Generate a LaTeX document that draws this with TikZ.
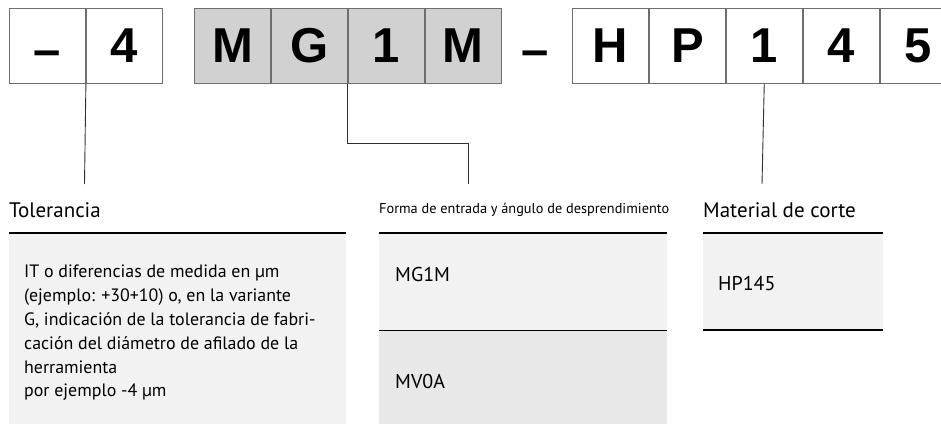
\documentclass[tikz,border=0pt]{standalone}
\usepackage{fontspec}
\setmainfont{PT Sans}
\newfontfamily\codefont{Liberation Sans}[BoldFont={Liberation Sans Bold}]
\usetikzlibrary{positioning}
\definecolor{cellgray}{HTML}{D1D1D1}
\definecolor{cellline}{HTML}{6E6E6E}
\definecolor{softgray}{HTML}{F2F2F2}
\definecolor{midgray}{HTML}{E8E8E8}
\definecolor{linkgray}{HTML}{303030}
\newcommand{\lowdash}{\vphantom{4}\smash{\raisebox{-4pt}{–}}}
\tikzset{
  cell/.style={draw=cellline, line width=0.9pt, minimum width=76pt, minimum height=75pt,
    inner sep=0pt, font=\codefont\bfseries\fontsize{49}{49}\selectfont},
  graycell/.style={cell, fill=cellgray},
  link/.style={linkgray, line width=0.9pt},
  heading/.style={anchor=base west, inner sep=0pt, font=\fontsize{21}{24}\selectfont},
  smallheading/.style={anchor=base west, inner sep=0pt, font=\fontsize{14.3}{17}\selectfont},
  entry/.style={anchor=base west, inner sep=0pt, font=\fontsize{20}{23}\selectfont},
  bodytext/.style={anchor=north west, inner sep=0pt, align=left, font=\fontsize{17.9}{23.8}\selectfont},
  rule/.style={black, line width=2.6pt},
  thinrule/.style={black, line width=0.9pt}
}
\begin{document}
\begin{tikzpicture}[x=1pt,y=-1pt]
  \useasboundingbox (0,0) rectangle (941,425);
  % code cells
  \node[cell, anchor=north west] (c1) at (9,8) {\lowdash};
  \node[cell, right=0pt of c1] (c2) {4};
  \node[graycell, anchor=north west] (c3) at (194,8) {M};
  \node[graycell, right=0pt of c3] (c4) {G};
  \node[graycell, right=0pt of c4] (c5) {1};
  \node[graycell, right=0pt of c5] (c6) {M};
  \node[font=\codefont\bfseries\fontsize{49}{49}\selectfont, inner sep=0pt] (dash) at (535,45.5) {\lowdash};
  \node[cell, anchor=north west] (c7) at (572,8) {H};
  \node[cell, right=0pt of c7] (c8) {P};
  \node[cell, right=0pt of c8] (c9) {1};
  \node[cell, right=0pt of c9] (c10) {4};
  \node[cell, right=0pt of c10] (c11) {5};
  % headings
  \node[heading] (tol) at (9,217) {Tolerancia};
  \node[smallheading] (forma) at (379,213) {Forma de entrada y ángulo de desprendimiento};
  \node[heading] (mat) at (703,217) {Material de corte};
  % connectors
  \coordinate (tolend) at (84.5,184);
  \coordinate (formaend) at (468,184);
  \coordinate (matend) at (762,184);
  \draw[link] (c1.south east) -- (tolend);
  \draw[link] (c4.south east) |- (468,143) -- (formaend);
  \draw[link] (c9.south) -- (matend);
  % tolerancia table
  \fill[softgray] (9,233) rectangle (346,424);
  \draw[rule] (9,233) -- (346,233);
  \node[bodytext] (toltext) at (24,265) {IT o diferencias de medida en µm\\(ejemplo: +30+10) o, en la variante\\G, indicación de la tolerancia de fabri-\\cación del diámetro de afilado de la\\herramienta\\por ejemplo -4 µm};
  % forma table
  \fill[softgray] (379,233) rectangle (667,330);
  \fill[midgray] (379,330) rectangle (667,424);
  \draw[rule] (379,233) -- (667,233);
  \draw[thinrule] (379,330) -- (667,330);
  \node[entry] (mg) at (395,281) {MG1M};
  \node[entry] (mv) at (395,388) {MV0A};
  % material table
  \fill[softgray] (703,233) rectangle (883,330);
  \draw[rule] (703,233) -- (883,233);
  \draw[rule] (703,330) -- (883,330);
  \node[entry] (hp) at (718,290) {HP145};
\end{tikzpicture}
\end{document}
